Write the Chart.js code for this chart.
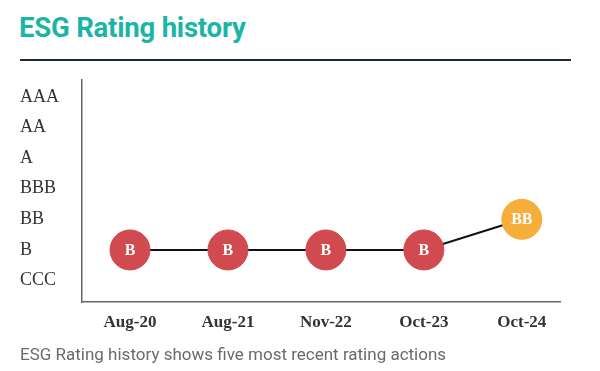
<!DOCTYPE html>
<html lang="en">
<head>
  <meta charset="UTF-8" />
  <script src="https://cdn.jsdelivr.net/npm/chart.js"></script>
  <title>ESG Rating history</title>
  <style>
    body {
      margin: 0;
      width: 600px;
      height: 371px;
      background: #fff;
      position: relative;
      overflow: hidden;
      font-family: Roboto, sans-serif;
    }
    .title {
      position: absolute;
      left: 19px;
      top: 12px;
      font-size: 27.5px;
      line-height: 32px;
      font-weight: 700;
      color: #1bb5a6;
      letter-spacing: -0.2px;
    }
    .rule {
      position: absolute;
      left: 20px;
      top: 59px;
      width: 551px;
      height: 2px;
      background: #1c2b33;
    }
    .note {
      position: absolute;
      left: 20px;
      top: 344px;
      font-size: 17px;
      line-height: 20px;
      color: #6a6a6a;
      z-index: 2;
    }
    #chartBox {
      position: absolute;
      left: 0;
      top: 0;
      width: 600px;
      height: 371px;
    }
  </style>
</head>
<body>
  <div class="title">ESG Rating history</div>
  <div class="rule"></div>
  <div id="chartBox"><canvas id="esgChart"></canvas></div>
  <div class="note">ESG Rating history shows five most recent rating actions</div>

  <script>
    // rating scale, lowest first
    const ratingScale = ['CCC', 'B', 'BB', 'BBB', 'A', 'AA', 'AAA'];
    const dates = ['Aug-20', 'Aug-21', 'Nov-22', 'Oct-23', 'Oct-24'];
    const ratings = ['B', 'B', 'B', 'B', 'BB'];

    const colorFor = r => r === 'B' ? '#d04a50' : '#f6ae3a';

    const points = ratings.map((r, i) => ({ x: i, y: ratingScale.indexOf(r) }));

    const pointLabels = {
      id: 'pointLabels',
      afterDatasetsDraw(chart) {
        const ctx = chart.ctx;
        const meta = chart.getDatasetMeta(0);
        ctx.save();
        ctx.fillStyle = '#fff';
        ctx.font = 'bold 16px "Liberation Serif", serif';
        ctx.textAlign = 'center';
        ctx.textBaseline = 'middle';
        meta.data.forEach((pt, i) => {
          ctx.fillText(ratings[i], pt.x, pt.y + 1);
        });
        ctx.restore();
      }
    };

    new Chart(document.getElementById('esgChart'), {
      type: 'line',
      data: {
        datasets: [{
          data: points,
          borderColor: '#111',
          borderWidth: 2,
          pointRadius: 20,
          pointHoverRadius: 20,
          pointBackgroundColor: ratings.map(colorFor),
          pointBorderColor: ratings.map(colorFor),
          pointBorderWidth: 1,
          tension: 0,
          clip: false
        }]
      },
      options: {
        responsive: true,
        maintainAspectRatio: false,
        animation: false,
        layout: { padding: { left: 20, top: 80, right: 40, bottom: 29 } },
        plugins: {
          legend: { display: false },
          tooltip: { enabled: false }
        },
        scales: {
          x: {
            type: 'linear',
            min: -0.49,
            max: 4.39,
            afterBuildTicks: scale => { scale.ticks = dates.map((d, i) => ({ value: i })); },
            afterFit: scale => { scale.height = 40; },
            grid: { display: false, drawTicks: false },
            border: { display: true, color: '#666', width: 1.5 },
            ticks: {
              padding: 10,
              color: '#333',
              font: { family: '"Liberation Serif", serif', size: 17, weight: 'bold' },
              callback: v => dates[v]
            }
          },
          y: {
            type: 'linear',
            min: -0.7,
            max: 6.55,
            afterBuildTicks: scale => { scale.ticks = ratingScale.map((r, i) => ({ value: i })); },
            afterFit: scale => { scale.width = 62; },
            grid: { display: false, drawTicks: false },
            border: { display: true, color: '#666', width: 1.5 },
            ticks: {
              crossAlign: 'far',
              color: '#333',
              font: { family: '"Liberation Serif", serif', size: 18 },
              callback: v => ratingScale[v]
            }
          }
        }
      },
      plugins: [pointLabels]
    });
  </script>
</body>
</html>
